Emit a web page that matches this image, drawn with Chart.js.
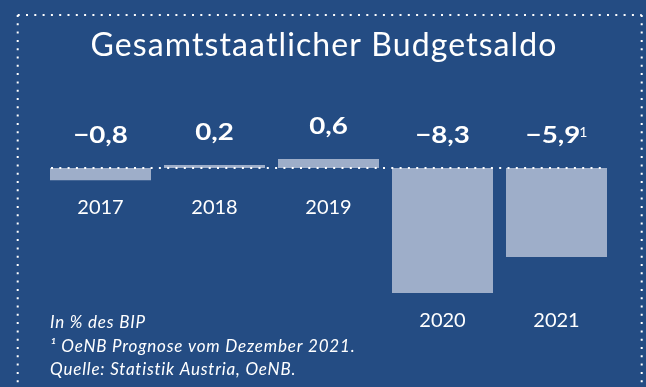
<!DOCTYPE html>
<html>
<head>
<meta charset="utf-8">
<script src="https://cdn.jsdelivr.net/npm/chart.js@4"></script>
<style>
  html, body { margin: 0; padding: 0; background: #244c83; }
  #wrap { width: 646px; height: 387px; }
</style>
</head>
<body>
<div id="wrap"><canvas id="saldo" width="646" height="387"></canvas></div>
<script>
// Budget balance in % of GDP
const YEARS = ['2017', '2018', '2019', '2020', '2021'];
const SALDO = [-0.8, 0.2, 0.6, -8.3, -5.9];
const FOOTMARK = ['', '', '', '', '1'];
const TITLE = 'Gesamtstaatlicher Budgetsaldo';
const NOTES = ['In % des BIP', '\u00B9 OeNB Prognose vom Dezember 2021.', 'Quelle: Statistik Austria, OeNB.'];

const BG = '#244c83';
const BAR = '#9eaec9';
const FONT = 'Lato, "Open Sans", sans-serif';

const fmt = v => (v < 0 ? '\u2212' : '') + Math.abs(v).toFixed(1).replace('.', ',');

// dotted white line, square dots
function dots(ctx, x1, y1, x2, y2) {
    ctx.save();
    ctx.strokeStyle = '#ffffff';
    ctx.lineWidth = 2;
    ctx.setLineDash([2, 6.3]);
    ctx.beginPath();
    ctx.moveTo(x1, y1);
    ctx.lineTo(x2, y2);
    ctx.stroke();
    ctx.restore();
}

// width of a string with optional spacing and horizontal stretch
function textWidth(ctx, txt, font, sx = 1, sp = 0) {
    ctx.save();
    ctx.font = font;
    ctx.letterSpacing = '0px';
    const w = (ctx.measureText(txt).width + sp * (txt.length - 1)) * sx;
    ctx.restore();
    return w;
}

// left-aligned text at (x, y) baseline
function text(ctx, txt, x, y, font, sx = 1, sp = 0) {
    ctx.save();
    ctx.fillStyle = '#ffffff';
    ctx.textAlign = 'left';
    ctx.textBaseline = 'alphabetic';
    ctx.font = font;
    ctx.letterSpacing = sp + 'px';
    ctx.translate(x, y);
    ctx.scale(sx, 1);
    ctx.fillText(txt, 0, 0);
    ctx.restore();
}

const panel = {
    id: 'panel',
    beforeDraw(chart) {
        const ctx = chart.ctx;
        ctx.save();
        ctx.fillStyle = BG;
        ctx.fillRect(0, 0, chart.width, chart.height);
        ctx.restore();
        // frame, runs off the bottom
        dots(ctx, 17.7, 15, 641.7, 15);
        dots(ctx, 17.7, 15, 17.7, 400);
        dots(ctx, 641.7, 15, 641.7, 400);

        const tf = '32px ' + FONT;
        const tw = textWidth(ctx, TITLE, tf, 1, 1.1);
        text(ctx, TITLE, 323.5 - tw / 2, 56, tf, 1, 1.1);

        const nf = 'italic 17px ' + FONT;
        [327.5, 351.5, 375].forEach((y, i) => text(ctx, NOTES[i], 50, y, nf, 1, 0.8));
    },
    afterDatasetsDraw(chart) {
        const ctx = chart.ctx;
        const meta = chart.getDatasetMeta(0);
        const zero = chart.scales.y.getPixelForValue(0);
        const first = meta.data[0], last = meta.data[meta.data.length - 1];
        dots(ctx, first.x - first.width / 2 + 1, zero, last.x + last.width / 2, zero);

        const vf = 'bold 22px ' + FONT;
        const sf = '14px ' + FONT;
        const yf = '20px ' + FONT;
        meta.data.forEach((bar, i) => {
            const top = Math.min(bar.y, zero);
            const bottom = Math.max(bar.y, zero);

            // value above the bar or zero line
            const txt = fmt(SALDO[i]);
            const w = textWidth(ctx, txt, vf, 1.26);
            const sw = FOOTMARK[i] ? textWidth(ctx, FOOTMARK[i], sf) - 1 : 0;
            const x0 = bar.x - (w + sw) / 2;
            text(ctx, txt, x0, top - 25, vf, 1.26);
            if (FOOTMARK[i]) text(ctx, FOOTMARK[i], x0 + w - 1, top - 31.5, sf);

            // year below the zero line, or under a deep bar
            const yw = textWidth(ctx, YEARS[i], yf);
            text(ctx, YEARS[i], bar.x - yw / 2, bottom > 200 ? 327 : 214, yf);
        });
    }
};

new Chart(document.getElementById('saldo'), {
    type: 'bar',
    data: {
        labels: YEARS,
        datasets: [{
            data: SALDO,
            backgroundColor: BAR,
            borderWidth: 0,
            barPercentage: 0.886,
            categoryPercentage: 1
        }]
    },
    options: {
        responsive: false,
        animation: false,
        devicePixelRatio: 1,
        layout: {padding: {left: 43.5, right: 32.5, top: 138, bottom: 94}},
        plugins: {legend: {display: false}, tooltip: {enabled: false}, title: {display: false}},
        scales: {
            x: {display: false},
            y: {display: false, min: -8.3, max: 2}
        }
    },
    plugins: [panel]
});
</script>
</body>
</html>
